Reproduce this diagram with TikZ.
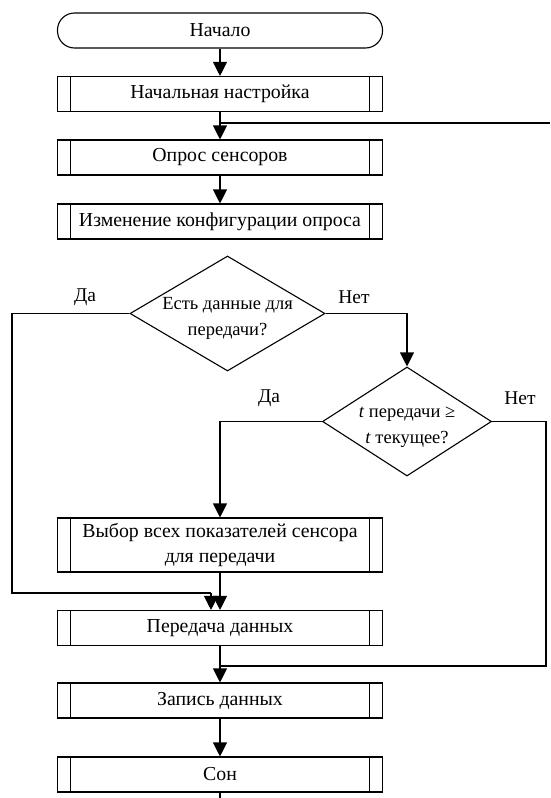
\documentclass[tikz,border=0pt]{standalone}
\usepackage{fontspec}
\setmainfont{Liberation Serif}
\usetikzlibrary{shapes.geometric,arrows.meta}
\newcommand{\dtxt}[2][0pt]{\raisebox{#1}[0pt][0pt]{\makebox[0pt]{\begin{tabular}{@{}c@{}}#2\end{tabular}}}}
\begin{document}
\begin{tikzpicture}[x=1pt,y=-1pt,
  every node/.style={font=\fontsize{19.8}{25.5}\selectfont},
  line/.style={line width=1.1pt},
  arr/.style={line, -{Triangle[length=14pt,width=14pt]}},
  proc/.style={draw, line width=1.1pt, rectangle, minimum width=325pt, minimum height=35pt,
    inner sep=2pt, align=center,
    path picture={
      \draw[line width=1.1pt] ([xshift=13pt]path picture bounding box.north west) -- ([xshift=13pt]path picture bounding box.south west);
      \draw[line width=1.1pt] ([xshift=-13pt]path picture bounding box.north east) -- ([xshift=-13pt]path picture bounding box.south east);
    }},
  term/.style={draw, line width=1.1pt, rectangle, rounded corners=17pt, minimum width=325pt, minimum height=35pt},
  decision/.style={draw, line width=1.1pt, diamond, inner sep=0pt, font=\fontsize{18.5}{25.5}\selectfont},
  lbl/.style={inner sep=0pt, font=\fontsize{19.5}{24}\selectfont}
]
\useasboundingbox (0,0) rectangle (550,798);

\node[term] (start) at (220,30.5) {Начало};
\node[proc] (b1) at (220,94) {Начальная настройка};
\node[proc] (b2) at (220,157.5) {Опрос сенсоров};
\node[proc] (b3) at (220,221.5) {Изменение конфигурации опроса};
\node[decision, minimum width=195pt, minimum height=115pt] (d1) at (227.5,313.5)
  {\dtxt[-8pt]{Есть данные для\\передачи?}};
\node[decision, minimum width=169pt, minimum height=109pt] (d2) at (407,421.5)
  {\dtxt[-8pt]{\textit{t} передачи ≥\\\textit{t} текущее?}};
\node[proc, minimum height=54pt] (b4) at (220,545) {Выбор всех показателей сенсора\\для передачи};
\node[proc] (b5) at (220,628) {Передача данных};
\node[proc] (b6) at (220,700.5) {Запись данных};
\node[proc] (b7) at (220,774.5) {Сон};

\node[lbl] (yes1) at (85,297) {Да};
\node[lbl] (no1) at (354,297) {Нет};
\node[lbl] (yes2) at (269,398) {Да};
\node[lbl] (no2) at (520,398) {Нет};

\coordinate (loopin) at (550,123);
\coordinate (loopj) at (220,123);
\coordinate (yl1) at (12,313.5);
\coordinate (yl2) at (12,593);
\coordinate (yl3) at (211,593);
\coordinate (nl1) at (407,313.5);
\coordinate (y2a) at (220,421.5);
\coordinate (n2a) at (546,421.5);
\coordinate (n2b) at (546,666);
\coordinate (n2c) at (220,666);
\coordinate (endc) at (220,798);

\draw[arr] (start) -- (b1);
\draw[arr] (b1) -- (b2);
\draw[line] (loopin) -- (loopj);
\draw[arr] (b2) -- (b3);
\draw[line] (d1.west) -- (yl1) -- (yl2) -- (yl3);
\draw[arr] (yl3) -- (yl3 |- b5.north);
\draw[arr] (d1.east) -- (nl1) -- (d2.north);
\draw[arr] (d2.west) -- (y2a) -- (b4.north);
\draw[arr] (b4) -- (b5);
\draw[line] (d2.east) -- (n2a) -- (n2b) -- (n2c);
\draw[arr] (b5) -- (b6);
\draw[arr] (b6) -- (b7);
\draw[line] (b7) -- (endc);
\end{tikzpicture}
\end{document}
